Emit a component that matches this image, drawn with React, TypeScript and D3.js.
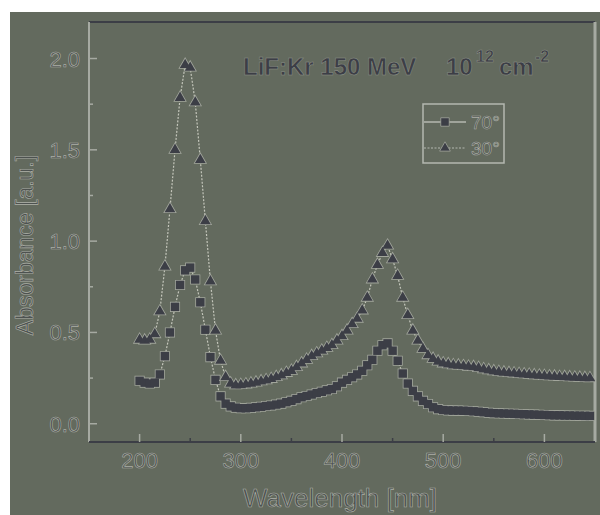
import React from 'react';
import * as d3 from 'd3';

// wavelength grid (nm) and absorbance values
const wl70 = [200, 205, 210, 215, 220, 225, 230, 235, 240, 245, 250, 255, 260, 265, 270, 275, 280, 285,
  290, 295, 300, 305, 310, 315, 320, 325, 330, 335, 340, 345, 350, 355, 360, 365, 370, 375, 380, 385,
  390, 395, 400, 405, 410, 415, 420, 425, 430, 435, 440, 445, 450, 455, 460, 465, 470, 475, 480, 485,
  490, 495, 500, 505, 510, 515, 520, 525, 530, 535, 540, 545, 550, 555, 560, 565, 570, 575, 580, 585,
  590, 595, 600, 605, 610, 615, 620, 625, 630, 635, 640, 645];
const abs70 = [0.235, 0.225, 0.22, 0.225, 0.27, 0.37, 0.5, 0.64, 0.76, 0.84, 0.855, 0.79, 0.665, 0.515, 0.365, 0.24, 0.15, 0.11,
  0.095, 0.088, 0.085, 0.085, 0.087, 0.09, 0.093, 0.097, 0.1, 0.105, 0.11, 0.118, 0.125, 0.135, 0.145, 0.152, 0.16, 0.168, 0.175, 0.183,
  0.19, 0.205, 0.225, 0.24, 0.255, 0.27, 0.29, 0.32, 0.35, 0.4, 0.43, 0.44, 0.4, 0.345, 0.275, 0.22, 0.18, 0.15, 0.125, 0.108,
  0.09, 0.08, 0.075, 0.073, 0.072, 0.072, 0.071, 0.07, 0.068, 0.066, 0.063, 0.06, 0.058, 0.057, 0.056, 0.055, 0.054, 0.053, 0.052, 0.051,
  0.05, 0.049, 0.048, 0.047, 0.046, 0.046, 0.045, 0.045, 0.044, 0.044, 0.043, 0.043];

const wl30 = wl70;
const abs30 = [0.46, 0.455, 0.46, 0.49, 0.615, 0.86, 1.175, 1.5, 1.785, 1.965, 1.95, 1.76, 1.445, 1.11, 0.78, 0.51, 0.345, 0.255,
  0.22, 0.21, 0.212, 0.215, 0.22, 0.225, 0.232, 0.238, 0.245, 0.255, 0.265, 0.278, 0.29, 0.31, 0.33, 0.35, 0.37, 0.385, 0.4, 0.415,
  0.43, 0.455, 0.48, 0.51, 0.545, 0.575, 0.62, 0.69, 0.79, 0.87, 0.935, 0.975, 0.9, 0.81, 0.69, 0.595, 0.51, 0.455, 0.41, 0.375,
  0.355, 0.34, 0.33, 0.325, 0.32, 0.318, 0.315, 0.312, 0.31, 0.305, 0.298, 0.292, 0.287, 0.283, 0.28, 0.277, 0.275, 0.272, 0.27, 0.268,
  0.265, 0.263, 0.261, 0.259, 0.258, 0.256, 0.255, 0.254, 0.252, 0.251, 0.25, 0.249];

const xTicks = [200, 300, 400, 500, 600];
const xMinor = [250, 350, 450, 550];
const yTicks = [0.0, 0.5, 1.0, 1.5, 2.0];
const yMinor = [0.25, 0.75, 1.25, 1.75];

const seriesNames = ['70°', '30°'];

const W = 600, H = 515;
const left = 89, right = 595, top = 22, bottom = 442;
const bg = '#636a5e';
const dark = '#3c3e46';
const light = '#a6aaa2';
const edge = '#a2a69c';
const font = 'Liberation Sans, Arial, sans-serif';

export default function App() {
  const x = d3.scaleLinear().domain([150, 650]).range([left, right]);
  const y = d3.scaleLinear().domain([-0.1, 2.2]).range([bottom, top]);

  const line = d3.line<number>()
    .x((_, i) => x(wl70[i]))
    .y(d => y(d));
  const line30 = d3.line<number>()
    .x((_, i) => x(wl30[i]))
    .y(d => y(d));

  const sq = d3.symbol().type(d3.symbolSquare).size(72)()!;
  const tri = d3.symbol().type(d3.symbolTriangle).size(50)()!;

  const tickLabel = { fontFamily: font, fontSize: 22, fill: '#4d5250', stroke: '#aeb1a8', strokeWidth: 0.6 };

  // outlines first, fills on top, so overlapping markers merge into one band
  const markers = (vals: number[], wls: number[], shape: string, key: string) => (
    <g key={key}>
      {vals.map((v, i) => (
        <path key={key + 'o' + i} d={shape} transform={`translate(${x(wls[i])},${y(v)})`}
          fill={edge} stroke={edge} strokeWidth={1.6} />
      ))}
      {vals.map((v, i) => (
        <path key={key + 'f' + i} d={shape} transform={`translate(${x(wls[i])},${y(v)})`} fill={dark} />
      ))}
    </g>
  );

  return (
    <svg width={W} height={H} style={{ position: 'absolute', left: 0, top: 0 }}>
      <rect x={0} y={0} width={W} height={H} fill="#ffffff" />
      <rect x={10} y={12} width={W - 10} height={H - 12} fill={bg} />
      <defs>
        <clipPath id="plot">
          <rect x={left} y={top} width={right - left} height={bottom - top} />
        </clipPath>
      </defs>

      {/* frame */}
      <line x1={left} x2={right} y1={top} y2={top} stroke={dark} strokeWidth={2} />
      <line x1={right} x2={right} y1={top} y2={bottom} stroke={light} strokeWidth={3} />
      <line x1={left} x2={left} y1={top} y2={bottom} stroke={light} strokeWidth={2} />
      <line x1={left} x2={right} y1={bottom} y2={bottom} stroke={dark} strokeWidth={2} />

      {/* y ticks */}
      {yTicks.map(t => (
        <g key={'y' + t}>
          <line x1={left} x2={left + 8} y1={y(t)} y2={y(t)} stroke={light} strokeWidth={1.5} />
          <text x={80} y={y(t) + 8} textAnchor="end" {...tickLabel}>{t.toFixed(1)}</text>
        </g>
      ))}
      {yMinor.map(t => (
        <line key={'ym' + t} x1={left} x2={left + 4} y1={y(t)} y2={y(t)} stroke={light} strokeWidth={1.5} />
      ))}

      {/* x ticks */}
      {xTicks.map(t => (
        <g key={'x' + t}>
          <line x1={x(t)} x2={x(t)} y1={bottom} y2={bottom - 8} stroke={light} strokeWidth={1.5} />
          <text x={x(t)} y={468} textAnchor="middle" {...tickLabel}>{t}</text>
        </g>
      ))}
      {xMinor.map(t => (
        <line key={'xm' + t} x1={x(t)} x2={x(t)} y1={bottom} y2={bottom - 4} stroke={dark} strokeWidth={1.5} />
      ))}

      {/* axis titles */}
      <text x={340} y={507} textAnchor="middle" fontFamily={font} fontSize={26}
        fill="#4d5250" stroke="#aeb1a8" strokeWidth={0.6}>Wavelength [nm]</text>
      <text transform={`translate(33,245) rotate(-90)`} textAnchor="middle" fontFamily={font} fontSize={23}
        fill="#4d5250" stroke="#aeb1a8" strokeWidth={0.6}>Absorbance [a.u.]</text>

      {/* title */}
      <g fontFamily={font} fontWeight="bold" fill={dark} stroke="#8e9288" strokeWidth={0.5}>
        <text x={243} y={75} fontSize={24}>LiF:Kr 150 MeV</text>
        <text x={446} y={75} fontSize={24}>10</text>
        <text x={476} y={62} fontSize={16}>12</text>
        <text x={499} y={75} fontSize={24}>cm</text>
        <text x={535} y={62} fontSize={16}>-2</text>
      </g>

      {/* data */}
      <g clipPath="url(#plot)">
        <path d={line(abs70)!} fill="none" stroke="#c4c6bb" strokeWidth={1.2} strokeDasharray="2,1.5" />
        <path d={line30(abs30)!} fill="none" stroke="#c4c6bb" strokeWidth={1.2} strokeDasharray="2,1.5" />
        {markers(abs70, wl70, sq, 's')}
        {markers(abs30, wl30, tri, 't')}
      </g>

      {/* legend */}
      <rect x={423} y={104} width={81} height={59} fill="none" stroke="#b4b8b0" strokeWidth={1.5} />
      <line x1={424} x2={466} y1={122} y2={122} stroke="#b4b8b0" strokeWidth={1.5} />
      <path d={sq} transform="translate(445,122)" fill={dark} stroke={edge} strokeWidth={0.8} />
      <text x={471} y={129} fontFamily={font} fontSize={19} {...{ fill: '#4d5250', stroke: '#aeb1a8', strokeWidth: 0.6 }}>{seriesNames[0]}</text>
      <line x1={424} x2={466} y1={148} y2={148} stroke="#b4b8b0" strokeWidth={1.2} strokeDasharray="2,1.5" />
      <path d={tri} transform="translate(445,148)" fill={dark} stroke={edge} strokeWidth={0.8} />
      <text x={471} y={155} fontFamily={font} fontSize={19} {...{ fill: '#4d5250', stroke: '#aeb1a8', strokeWidth: 0.6 }}>{seriesNames[1]}</text>
    </svg>
  );
}
